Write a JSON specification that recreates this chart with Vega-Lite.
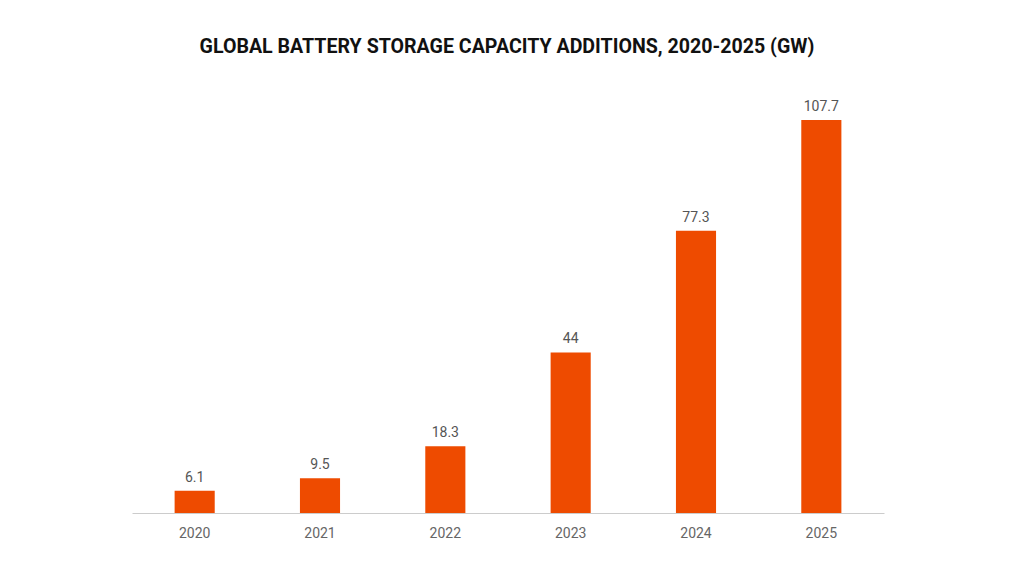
{
  "$schema": "https://vega.github.io/schema/vega-lite/v6.json",
  "autosize": {"type": "none"},
  "width": 752,
  "height": 438,
  "padding": {"left": 132, "top": 75, "right": 140, "bottom": 63},
  "background": "#ffffff",
  "title": {
    "text": "GLOBAL BATTERY STORAGE CAPACITY ADDITIONS, 2020-2025 (GW)",
    "font": "Roboto",
    "fontSize": 19.6,
    "fontWeight": "bold",
    "color": "#111111",
    "anchor": "middle",
    "frame": "group",
    "offset": 17,
    "dx": -1
  },
  "data": {
    "values": [
      {"year": "2020", "gw": 6.1},
      {"year": "2021", "gw": 9.5},
      {"year": "2022", "gw": 18.3},
      {"year": "2023", "gw": 44},
      {"year": "2024", "gw": 77.3},
      {"year": "2025", "gw": 107.7}
    ]
  },
  "encoding": {
    "x": {
      "field": "year",
      "type": "ordinal",
      "scale": {"paddingInner": 0.68, "paddingOuter": 0.34},
      "axis": {
        "title": null,
        "labelAngle": 0,
        "labelFont": "Roboto",
        "labelFontSize": 14,
        "labelColor": "#666666",
        "labelPadding": 13,
        "ticks": false,
        "domainColor": "#cccccc",
        "domainWidth": 1
      }
    },
    "y": {
      "field": "gw",
      "type": "quantitative",
      "scale": {"domain": [0, 120], "nice": false},
      "axis": null
    }
  },
  "layer": [
    {"mark": {"type": "bar", "color": "#EE4B00"}},
    {
      "mark": {
        "type": "text",
        "baseline": "bottom",
        "dy": -6,
        "font": "Roboto",
        "fontSize": 14,
        "color": "#555555"
      },
      "encoding": {"text": {"field": "gw", "type": "quantitative"}}
    }
  ],
  "config": {"view": {"stroke": null}}
}
